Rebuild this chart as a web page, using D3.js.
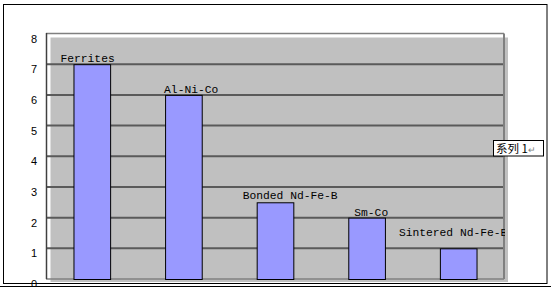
<!DOCTYPE html>
<html>
<head>
<meta charset="utf-8">
<script src="https://cdn.jsdelivr.net/npm/d3@7/dist/d3.min.js"></script>
<style>
  html, body { margin: 0; padding: 0; background: #fff; }
  svg { display: block; }
</style>
</head>
<body>
<svg id="chart" width="551" height="295"></svg>
<script>
// ---- data ----
const categories = ["Ferrites", "Al-Ni-Co", "Bonded Nd-Fe-B", "Sm-Co", "Sintered Nd-Fe-B"];
const values = [7, 6, 2.5, 2, 1];
const yTicks = [0, 1, 2, 3, 4, 5, 6, 7, 8];
const legendLabel = "系列 1";

// label nudges (layout only, relative to each bar)
const labelDx = [-13, -1, -14, 6, -41];
const labelDy = [-2, -2, -3, -2, -12];

const svg = d3.select("#chart");

const x = d3.scaleBand().domain(categories).range([46, 504]).paddingInner(0.6).paddingOuter(0.3);
const y = d3.scaleLinear().domain([0, 8]).range([279, 33.5]);

// outer frame
svg.append("rect").attr("x", 3.5).attr("y", 4.5).attr("width", 543.5).attr("height", 279)
  .attr("fill", "#fff").attr("stroke", "#000").attr("stroke-width", 1);

// back wall (3D offset)
svg.append("rect").attr("x", 50.5).attr("y", 37.5).attr("width", 457.5).attr("height", 244.5)
  .attr("fill", "#C0C0C0");

// gridlines
svg.append("g").selectAll("line").data(yTicks.filter(d => d > 0 && d < 8)).join("line")
  .attr("x1", 46).attr("x2", 504)
  .attr("y1", d => y(d)).attr("y2", d => y(d))
  .attr("stroke", "#5a5a5a").attr("stroke-width", 2);

// top edge, right edge, floor
svg.append("line").attr("x1", 46).attr("x2", 504).attr("y1", y(8)).attr("y2", y(8))
  .attr("stroke", "#808080").attr("stroke-width", 1.5);
svg.append("line").attr("x1", 504).attr("x2", 504).attr("y1", y(8)).attr("y2", y(0))
  .attr("stroke", "#808080").attr("stroke-width", 2);
svg.append("line").attr("x1", 46).attr("x2", 504).attr("y1", y(0)).attr("y2", y(0))
  .attr("stroke", "#808080").attr("stroke-width", 1.5);

// left axis line
svg.append("line").attr("x1", 46.5).attr("x2", 46.5).attr("y1", y(8) - 0.5).attr("y2", y(0))
  .attr("stroke", "#404040").attr("stroke-width", 1.5);

// y axis labels
const yAxis = d3.axisLeft(y).tickValues(yTicks).tickSize(0).tickPadding(9).tickFormat(d3.format("d"));
const yg = svg.append("g").attr("transform", "translate(46,5)").call(yAxis);
yg.select(".domain").remove();
yg.selectAll("text").attr("font-family", "Liberation Sans, Arial, sans-serif").attr("font-size", 11).attr("fill", "#000");

// bars
svg.append("g").selectAll("rect").data(categories).join("rect")
  .attr("x", d => x(d) + 0.5)
  .attr("y", (d, i) => y(values[i]) + 0.5)
  .attr("width", x.bandwidth())
  .attr("height", (d, i) => y(0) - y(values[i]))
  .attr("fill", "#9999FF").attr("stroke", "#000").attr("stroke-width", 1);

// data labels
svg.append("defs").append("clipPath").attr("id", "lblclip")
  .append("rect").attr("x", 0).attr("y", 0).attr("width", 505).attr("height", 295);
svg.append("g").attr("clip-path", "url(#lblclip)").selectAll("text").data(categories).join("text")
  .attr("x", (d, i) => x(d) + labelDx[i])
  .attr("y", (d, i) => y(values[i]) + labelDy[i])
  .attr("font-family", "Liberation Mono, DejaVu Sans Mono, monospace")
  .attr("font-size", 11.3).attr("fill", "#000")
  .text(d => d);

// legend
const lg = svg.append("g");
lg.append("rect").attr("x", 493.5).attr("y", 140.5).attr("width", 50).attr("height", 15.5)
  .attr("fill", "#fff").attr("stroke", "#000").attr("stroke-width", 1);
const lt = lg.append("text").attr("x", 496).attr("y", 153)
  .attr("font-family", "Noto Sans CJK SC, sans-serif").attr("font-size", 11.5).attr("fill", "#000");
lt.append("tspan").text(legendLabel);
lt.append("tspan").attr("fill", "#808080").attr("font-size", 9).text("↵");

// bottom lines / page edge
svg.append("rect").attr("x", 0).attr("y", 287).attr("width", 551).attr("height", 8).attr("fill", "#fff");
svg.append("line").attr("x1", 3).attr("x2", 547).attr("y1", 283.5).attr("y2", 283.5)
  .attr("stroke", "#000").attr("stroke-width", 1);
svg.append("line").attr("x1", 0).attr("x2", 551).attr("y1", 286.5).attr("y2", 286.5)
  .attr("stroke", "#000").attr("stroke-width", 1);
</script>
</body>
</html>
